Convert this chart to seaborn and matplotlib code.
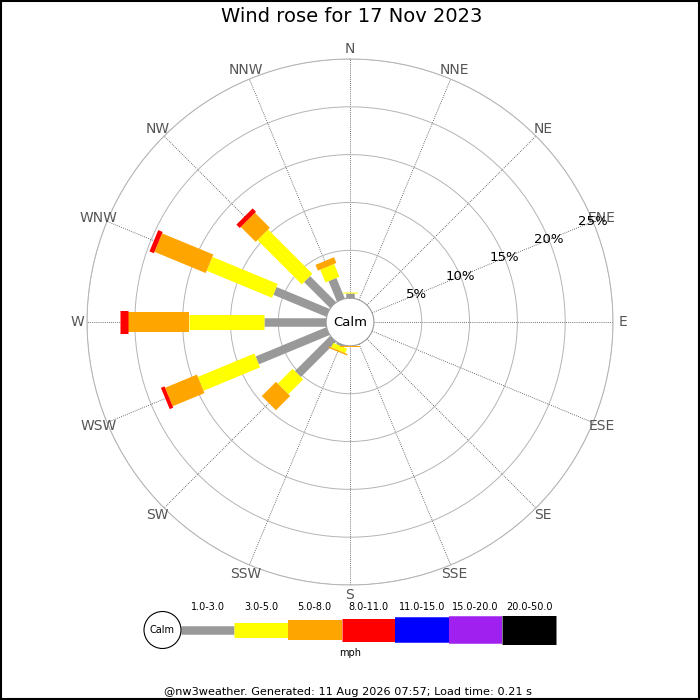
import numpy as np
import pandas as pd
import seaborn as sns
import matplotlib.pyplot as plt
from matplotlib.patches import Rectangle, Circle

# wind directions, clockwise from north
directions = ["N", "NNE", "NE", "ENE", "E", "ESE", "SE", "SSE",
              "S", "SSW", "SW", "WSW", "W", "WNW", "NW", "NNW"]

# speed bands (mph) and their colours
bands = ["1.0-3.0", "3.0-5.0", "5.0-8.0", "8.0-11.0", "11.0-15.0", "15.0-20.0", "20.0-50.0"]
band_colors = ["#999999", "#ffff00", "#ffa500", "#ff0000", "#0000ff", "#a020f0", "#000000"]
band_widths = [8.5, 15, 20, 23, 25.5, 27.5, 29]  # pixels

# percentage of time per direction and band
pct_1_3 = [0.5, 0, 0, 0, 0, 0, 0, 0, 0, 0.2, 5.2, 8.0, 6.5, 6.0, 3.85, 2.3]
pct_3_5 = [0.12, 0, 0, 0, 0, 0, 0, 0, 0, 0.5, 2.2, 6.4, 7.8, 7.4, 6.55, 1.45]
pct_5_8 = [0, 0, 0, 0, 0, 0, 0, 0, 0.12, 0.15, 2.1, 3.6, 6.4, 5.8, 2.2, 0.65]
pct_8_11 = [0, 0, 0, 0, 0, 0, 0, 0, 0, 0, 0, 0.4, 0.8, 0.5, 0.5, 0]
pct_11_15 = [0] * 16
pct_15_20 = [0] * 16
pct_20_50 = [0] * 16

rings = [5, 10, 15, 20, 25]
title = "Wind rose for 17 Nov 2023"
footer = "@nw3weather. Generated: 11 Aug 2026 07:57; Load time: 0.21 s"

df = pd.DataFrame({"direction": directions, bands[0]: pct_1_3, bands[1]: pct_3_5,
                   bands[2]: pct_5_8, bands[3]: pct_8_11, bands[4]: pct_11_15,
                   bands[5]: pct_15_20, bands[6]: pct_20_50})

sns.set_style("white")
plt.rcParams["font.family"] = ["DejaVu Sans"]
plt.rcParams["text.color"] = "black"

PX = 72 / 100  # points per pixel
fig = plt.figure(figsize=(7, 7), dpi=100)

# polar axes: centre at (350, 322) px, outer ring radius 263 px
R = 263
ax = fig.add_axes([(350 - R) / 700, (700 - 322 - R) / 700, 2 * R / 700, 2 * R / 700],
                  projection="polar")
ax.set_theta_zero_location("N")
ax.set_theta_direction(-1)
ax.set_rorigin(-2.5)
ax.set_ylim(0, 25)

theta = np.deg2rad(np.arange(16) * 22.5)
ax.set_xticks(theta)
ax.set_xticklabels([])
ax.set_yticks(rings)
ax.set_yticklabels([])
ax.tick_params(length=0)
ax.xaxis.grid(True, color="#444444", linestyle=(0, (1, 1.5)), linewidth=0.6)
ax.yaxis.grid(True, color="#b4b4b4", linestyle="-", linewidth=0.7)
ax.spines["polar"].set_color("#b4b4b4")
ax.spines["polar"].set_linewidth(0.7)
ax.spines["inner"].set_color("#999999")
ax.spines["inner"].set_linewidth(0.8)

# stacked radial bars
bottom = np.zeros(16)
for band, col, w in zip(bands, band_colors, band_widths):
    vals = df[band].to_numpy(dtype=float)
    m = vals > 0
    if m.any():
        ax.vlines(theta[m], bottom[m], bottom[m] + vals[m], colors=col,
                  linewidth=w * PX, capstyle="butt", zorder=3)
    bottom = bottom + vals

# direction labels
for t, d in zip(theta, directions):
    ax.text(t, 26.0, d, ha="center", va="center", color="#555555",
            fontsize=10, clip_on=False)

# ring labels along ENE
for r in rings:
    ax.text(np.deg2rad(67.5), r, f"{r}%", ha="center", va="center",
            color="black", fontsize=9.5, zorder=4)

ax.text(0.5, 0.5, "Calm", transform=ax.transAxes, ha="center", va="center",
        fontsize=9.5, zorder=5)

fig.text(352 / 700, 1 - 17 / 700, title, ha="center", va="center", fontsize=14)

# legend strip, coordinates in pixels
lax = fig.add_axes([140 / 700, 1 - 665 / 700, 420 / 700, 70 / 700])
lax.set_xlim(140, 560)
lax.set_ylim(665, 595)
lax.axis("off")
seg = 53.6
x0 = 180.7
for i, (band, col, w) in enumerate(zip(bands, band_colors, band_widths)):
    lax.hlines(629.5, x0 + i * seg, x0 + (i + 1) * seg, colors=col,
               linewidth=w * PX, capstyle="butt")
    lax.text(x0 + (i + 0.5) * seg, 607, band, ha="center", va="center", fontsize=7)
lax.add_patch(Circle((162.5, 630), 18.5, facecolor="white", edgecolor="black",
                     linewidth=0.8, zorder=3))
lax.text(162.5, 630, "Calm", ha="center", va="center", fontsize=7, zorder=4)
lax.text(350, 653, "mph", ha="center", va="center", fontsize=7)

fig.text(348 / 700, 1 - 692 / 700, footer, ha="center", va="center", fontsize=8.1)

fig.patches.append(Rectangle((0.001, 0.001), 0.998, 0.998, transform=fig.transFigure,
                             fill=False, edgecolor="black", linewidth=1.5))

fig.savefig("out.png", dpi=100)
